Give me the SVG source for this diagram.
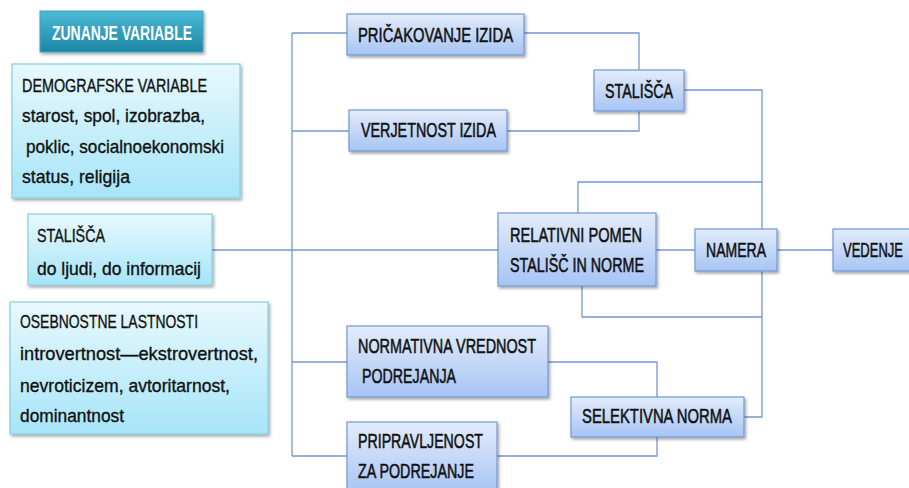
<svg xmlns="http://www.w3.org/2000/svg" width="909" height="488" viewBox="0 0 909 488">
<defs>
<linearGradient id="gCyan" x1="0" y1="0" x2="0" y2="1"><stop offset="0" stop-color="#e8f8fd"/><stop offset="1" stop-color="#a6e5f8"/></linearGradient>
<linearGradient id="gBlue" x1="0" y1="0" x2="0" y2="1"><stop offset="0" stop-color="#e3ecfb"/><stop offset="1" stop-color="#a7c4f4"/></linearGradient>
<linearGradient id="gTeal" x1="0" y1="0" x2="0" y2="1"><stop offset="0" stop-color="#4cbad6"/><stop offset="1" stop-color="#1c86a5"/></linearGradient>
<filter id="sh" x="-10%" y="-10%" width="125%" height="135%"><feDropShadow dx="1.5" dy="2" stdDeviation="1.5" flood-color="#000" flood-opacity="0.35"/></filter>
</defs>
<style>
.cy{fill:url(#gCyan);stroke:#86cfe3;stroke-width:1.2;filter:url(#sh)}
.bl{fill:url(#gBlue);stroke:#7198d6;stroke-width:1.2;filter:url(#sh)}
.tl{fill:url(#gTeal);stroke:#3aa6c4;stroke-width:1;filter:url(#sh)}
text{font-family:"Liberation Sans",Arial,sans-serif;font-size:19px;fill:#111;stroke:#111;stroke-width:0.35}
.w{fill:#fff;stroke:#fff;font-size:21px;font-weight:bold;stroke-width:0}
.r{font-size:21px;stroke-width:0.55}
.ln{fill:none;stroke:#7398cf;stroke-width:1.3}
</style>
<g id="connectors">
<path class="ln" d="M292 33 V456"/>
<path class="ln" d="M292 33 H347"/>
<path class="ln" d="M292 131 H349"/>
<path class="ln" d="M292 362 H347"/>
<path class="ln" d="M292 456 H347"/>
<path class="ln" d="M212 250 H498"/>
<path class="ln" d="M524 33 H639 V70"/>
<path class="ln" d="M507 131 H639 V111"/>
<path class="ln" d="M684 90 H762 V417 H744"/>
<path class="ln" d="M578 213 V182 H762"/>
<path class="ln" d="M582 286 V317 H762"/>
<path class="ln" d="M656 250 H695"/>
<path class="ln" d="M777 250 H833"/>
<path class="ln" d="M548 362 H657 V397"/>
<path class="ln" d="M657 437 V456 H497"/>
</g>
<g id="zunanje"><rect class="tl" x="40" y="11" width="163" height="41"/><text class="w" x="52" y="40" textLength="140" lengthAdjust="spacingAndGlyphs">ZUNANJE VARIABLE</text></g>
<g id="demografske"><rect class="cy" x="12" y="64" width="228" height="134"/>
<text x="22" y="92" textLength="185" lengthAdjust="spacingAndGlyphs">DEMOGRAFSKE VARIABLE</text>
<text x="22" y="122" textLength="183" lengthAdjust="spacingAndGlyphs">starost, spol, izobrazba,</text>
<text x="26" y="153" textLength="198" lengthAdjust="spacingAndGlyphs">poklic, socialnoekonomski</text>
<text x="22" y="183" textLength="108" lengthAdjust="spacingAndGlyphs">status, religija</text></g>
<g id="stalisca-left"><rect class="cy" x="28" y="214" width="184" height="71"/>
<text x="37" y="242" textLength="68" lengthAdjust="spacingAndGlyphs">STALIŠČA</text>
<text x="37" y="275" textLength="164" lengthAdjust="spacingAndGlyphs">do ljudi, do informacij</text></g>
<g id="osebnostne"><rect class="cy" x="10" y="302" width="258" height="132"/>
<text x="20" y="328" textLength="178" lengthAdjust="spacingAndGlyphs">OSEBNOSTNE LASTNOSTI</text>
<text x="20" y="360" textLength="238" lengthAdjust="spacingAndGlyphs">introvertnost—ekstrovertnost,</text>
<text x="20" y="392" textLength="210" lengthAdjust="spacingAndGlyphs">nevroticizem, avtoritarnost,</text>
<text x="20" y="422" textLength="104" lengthAdjust="spacingAndGlyphs">dominantnost</text></g>
<g id="pricakovanje"><rect class="bl" x="347" y="14" width="177" height="41"/><text class="r" x="358" y="42" textLength="155" lengthAdjust="spacingAndGlyphs">PRIČAKOVANJE IZIDA</text></g>
<g id="verjetnost"><rect class="bl" x="349" y="110" width="158" height="41"/><text class="r" x="361" y="137" textLength="135" lengthAdjust="spacingAndGlyphs">VERJETNOST IZIDA</text></g>
<g id="stalisca-right"><rect class="bl" x="594" y="70" width="90" height="41"/><text class="r" x="605" y="98" textLength="68" lengthAdjust="spacingAndGlyphs">STALIŠČA</text></g>
<g id="relativni"><rect class="bl" x="498" y="213" width="158" height="73"/>
<text class="r" x="510" y="242" textLength="132" lengthAdjust="spacingAndGlyphs">RELATIVNI POMEN</text>
<text class="r" x="510" y="272" textLength="134" lengthAdjust="spacingAndGlyphs">STALIŠČ IN NORME</text></g>
<g id="namera"><rect class="bl" x="695" y="229" width="82" height="42"/><text class="r" x="706" y="257" textLength="60" lengthAdjust="spacingAndGlyphs">NAMERA</text></g>
<g id="vedenje"><rect class="bl" x="833" y="229" width="90" height="42"/><text class="r" x="843" y="257" textLength="60" lengthAdjust="spacingAndGlyphs">VEDENJE</text></g>
<g id="normativna"><rect class="bl" x="347" y="326" width="201" height="71"/>
<text class="r" x="358" y="353" textLength="178" lengthAdjust="spacingAndGlyphs">NORMATIVNA VREDNOST</text>
<text class="r" x="362" y="383" textLength="94" lengthAdjust="spacingAndGlyphs">PODREJANJA</text></g>
<g id="selektivna"><rect class="bl" x="571" y="397" width="173" height="40"/><text class="r" x="582" y="423" textLength="150" lengthAdjust="spacingAndGlyphs">SELEKTIVNA  NORMA</text></g>
<g id="pripravljenost"><rect class="bl" x="347" y="422" width="150" height="72"/>
<text class="r" x="358" y="448" textLength="125" lengthAdjust="spacingAndGlyphs">PRIPRAVLJENOST</text>
<text class="r" x="358" y="478" textLength="116" lengthAdjust="spacingAndGlyphs">ZA PODREJANJE</text></g>
</svg>
